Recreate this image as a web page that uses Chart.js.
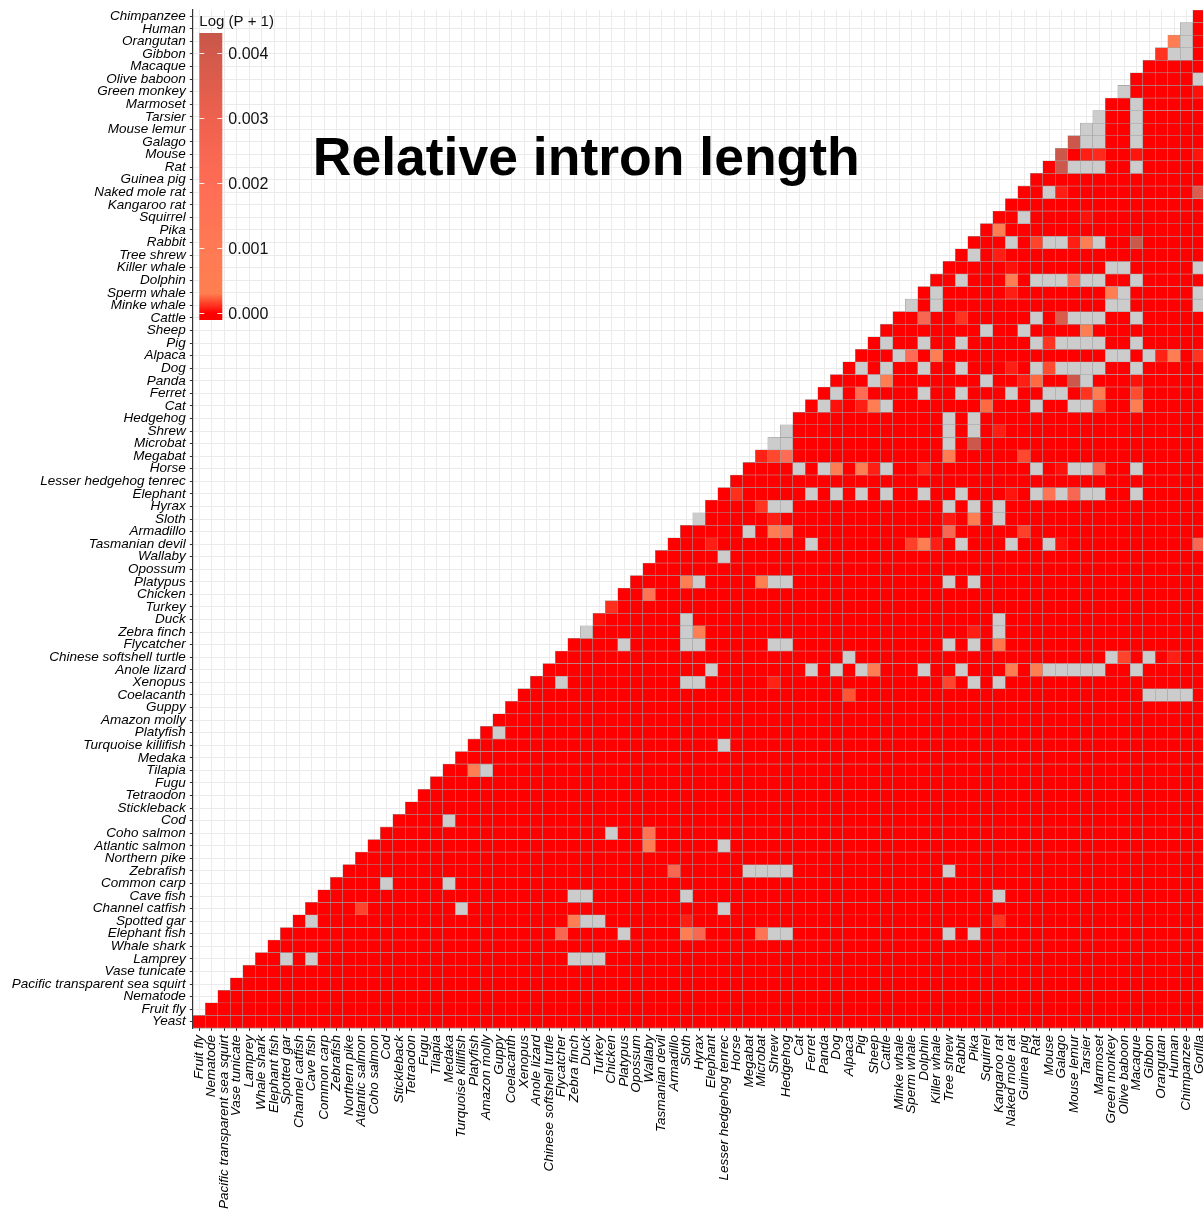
<!DOCTYPE html>
<html>
<head>
<meta charset="utf-8">
<script src="https://cdn.jsdelivr.net/npm/chart.js@4.4.1/dist/chart.umd.min.js"></script>
<style>
  html, body { margin: 0; padding: 0; background: #fff; overflow: hidden; }
  #wrap { width: 1206px; height: 1209px; position: relative; }
</style>
</head>
<body>
<div id="wrap"><canvas id="heat"></canvas></div>
<script>
// species on the y axis, top to bottom
const yLabels = ['Chimpanzee', 'Human', 'Orangutan', 'Gibbon', 'Macaque', 'Olive baboon', 'Green monkey', 'Marmoset',
    'Tarsier', 'Mouse lemur', 'Galago', 'Mouse', 'Rat', 'Guinea pig', 'Naked mole rat', 'Kangaroo rat', 'Squirrel',
    'Pika', 'Rabbit', 'Tree shrew', 'Killer whale', 'Dolphin', 'Sperm whale', 'Minke whale', 'Cattle', 'Sheep', 'Pig',
    'Alpaca', 'Dog', 'Panda', 'Ferret', 'Cat', 'Hedgehog', 'Shrew', 'Microbat', 'Megabat', 'Horse',
    'Lesser hedgehog tenrec', 'Elephant', 'Hyrax', 'Sloth', 'Armadillo', 'Tasmanian devil', 'Wallaby', 'Opossum',
    'Platypus', 'Chicken', 'Turkey', 'Duck', 'Zebra finch', 'Flycatcher', 'Chinese softshell turtle', 'Anole lizard',
    'Xenopus', 'Coelacanth', 'Guppy', 'Amazon molly', 'Platyfish', 'Turquoise killifish', 'Medaka', 'Tilapia', 'Fugu',
    'Tetraodon', 'Stickleback', 'Cod', 'Coho salmon', 'Atlantic salmon', 'Northern pike', 'Zebrafish', 'Common carp',
    'Cave fish', 'Channel catfish', 'Spotted gar', 'Elephant fish', 'Whale shark', 'Lamprey', 'Vase tunicate',
    'Pacific transparent sea squirt', 'Nematode', 'Fruit fly', 'Yeast'];

// species on the x axis, left to right
const xLabels = ['Fruit fly', 'Nematode', 'Pacific transparent sea squirt', 'Vase tunicate', 'Lamprey', 'Whale shark',
    'Elephant fish', 'Spotted gar', 'Channel catfish', 'Cave fish', 'Common carp', 'Zebrafish', 'Northern pike',
    'Atlantic salmon', 'Coho salmon', 'Cod', 'Stickleback', 'Tetraodon', 'Fugu', 'Tilapia', 'Medaka',
    'Turquoise killifish', 'Platyfish', 'Amazon molly', 'Guppy', 'Coelacanth', 'Xenopus', 'Anole lizard',
    'Chinese softshell turtle', 'Flycatcher', 'Zebra finch', 'Duck', 'Turkey', 'Chicken', 'Platypus', 'Opossum',
    'Wallaby', 'Tasmanian devil', 'Armadillo', 'Sloth', 'Hyrax', 'Elephant', 'Lesser hedgehog tenrec', 'Horse',
    'Megabat', 'Microbat', 'Shrew', 'Hedgehog', 'Cat', 'Ferret', 'Panda', 'Dog', 'Alpaca', 'Pig', 'Sheep', 'Cattle',
    'Minke whale', 'Sperm whale', 'Dolphin', 'Killer whale', 'Tree shrew', 'Rabbit', 'Pika', 'Squirrel',
    'Kangaroo rat', 'Naked mole rat', 'Guinea pig', 'Rat', 'Mouse', 'Galago', 'Mouse lemur', 'Tarsier', 'Marmoset',
    'Green monkey', 'Olive baboon', 'Macaque', 'Gibbon', 'Orangutan', 'Human', 'Chimpanzee', 'Gorilla'];

// pairs without a value (grey tiles), row species -> column species
const naCells = {
    'Human': ['Chimpanzee'],
    'Orangutan': ['Chimpanzee'],
    'Gibbon': ['Human', 'Chimpanzee'],
    'Olive baboon': ['Gorilla'],
    'Green monkey': ['Olive baboon'],
    'Marmoset': ['Macaque'],
    'Tarsier': ['Marmoset', 'Macaque'],
    'Mouse lemur': ['Tarsier', 'Marmoset', 'Macaque'],
    'Galago': ['Tarsier', 'Marmoset', 'Macaque'],
    'Rat': ['Mouse lemur', 'Tarsier', 'Marmoset', 'Macaque'],
    'Naked mole rat': ['Mouse'],
    'Squirrel': ['Guinea pig'],
    'Rabbit': ['Naked mole rat', 'Mouse', 'Galago', 'Marmoset'],
    'Tree shrew': ['Pika'],
    'Killer whale': ['Green monkey', 'Olive baboon', 'Gorilla'],
    'Dolphin': ['Rabbit', 'Rat', 'Mouse', 'Galago', 'Tarsier', 'Marmoset', 'Macaque'],
    'Sperm whale': ['Killer whale', 'Olive baboon', 'Gorilla'],
    'Minke whale': ['Sperm whale', 'Killer whale', 'Green monkey', 'Olive baboon', 'Gorilla'],
    'Cattle': ['Rat', 'Mouse lemur', 'Tarsier', 'Marmoset', 'Macaque'],
    'Sheep': ['Squirrel', 'Guinea pig'],
    'Pig': ['Cattle', 'Dolphin', 'Rabbit', 'Rat', 'Galago', 'Mouse lemur', 'Tarsier', 'Marmoset', 'Macaque'],
    'Alpaca': ['Minke whale', 'Green monkey', 'Olive baboon', 'Gibbon'],
    'Dog': ['Pig', 'Cattle', 'Dolphin', 'Rabbit', 'Rat', 'Galago', 'Mouse lemur', 'Tarsier', 'Marmoset', 'Macaque'],
    'Panda': ['Sheep', 'Squirrel', 'Tarsier'],
    'Ferret': ['Dog', 'Dolphin', 'Rabbit', 'Naked mole rat', 'Mouse', 'Galago'],
    'Cat': ['Panda', 'Cattle', 'Rat', 'Mouse lemur', 'Tarsier'],
    'Hedgehog': ['Tree shrew', 'Pika'],
    'Shrew': ['Hedgehog', 'Tree shrew', 'Pika'],
    'Microbat': ['Shrew', 'Hedgehog', 'Tree shrew'],
    'Horse': ['Cat', 'Panda', 'Cattle', 'Rat', 'Mouse lemur', 'Tarsier', 'Macaque'],
    'Elephant': ['Ferret', 'Dog', 'Pig', 'Cattle', 'Dolphin', 'Rabbit', 'Rat', 'Galago', 'Tarsier', 'Marmoset', 'Macaque'],
    'Hyrax': ['Shrew', 'Hedgehog', 'Tree shrew', 'Pika', 'Kangaroo rat'],
    'Sloth': ['Hyrax', 'Kangaroo rat'],
    'Armadillo': ['Megabat'],
    'Tasmanian devil': ['Ferret', 'Rabbit', 'Naked mole rat', 'Mouse'],
    'Wallaby': ['Lesser hedgehog tenrec'],
    'Platypus': ['Hyrax', 'Shrew', 'Hedgehog', 'Tree shrew', 'Pika'],
    'Duck': ['Sloth', 'Kangaroo rat'],
    'Zebra finch': ['Duck', 'Sloth', 'Kangaroo rat'],
    'Flycatcher': ['Platypus', 'Sloth', 'Hyrax', 'Shrew', 'Hedgehog', 'Tree shrew', 'Pika'],
    'Chinese softshell turtle': ['Alpaca', 'Green monkey', 'Gibbon'],
    'Anole lizard': ['Elephant', 'Ferret', 'Dog', 'Pig', 'Dolphin', 'Rabbit', 'Mouse', 'Galago', 'Mouse lemur',
        'Tarsier', 'Marmoset', 'Macaque'],
    'Xenopus': ['Flycatcher', 'Sloth', 'Hyrax', 'Pika', 'Kangaroo rat'],
    'Coelacanth': ['Gibbon', 'Orangutan', 'Human', 'Chimpanzee'],
    'Platyfish': ['Guppy'],
    'Turquoise killifish': ['Lesser hedgehog tenrec'],
    'Tilapia': ['Amazon molly'],
    'Cod': ['Medaka'],
    'Coho salmon': ['Chicken'],
    'Atlantic salmon': ['Lesser hedgehog tenrec'],
    'Zebrafish': ['Megabat', 'Microbat', 'Shrew', 'Hedgehog', 'Tree shrew'],
    'Common carp': ['Cod', 'Medaka'],
    'Cave fish': ['Zebra finch', 'Duck', 'Sloth', 'Kangaroo rat'],
    'Channel catfish': ['Turquoise killifish', 'Lesser hedgehog tenrec'],
    'Spotted gar': ['Cave fish', 'Duck', 'Turkey'],
    'Elephant fish': ['Platypus', 'Shrew', 'Hedgehog', 'Tree shrew', 'Pika'],
    'Lamprey': ['Spotted gar', 'Cave fish', 'Zebra finch', 'Duck', 'Turkey']
};

// Log(P + 1) values that are not ~0, row species -> column species
const pValues = {
    'Orangutan': { 'Human': 0.0006 },
    'Gibbon': { 'Orangutan': 0.00012 },
    'Green monkey': { 'Gorilla': 0.00004 },
    'Galago': { 'Mouse lemur': 0.0042 },
    'Mouse': { 'Galago': 0.0042, 'Tarsier': 0.00007, 'Marmoset': 0.0001, 'Macaque': 0.00005, 'Gorilla': 0.00005 },
    'Rat': { 'Galago': 0.0042 },
    'Naked mole rat': { 'Galago': 0.00007, 'Gorilla': 0.0037 },
    'Squirrel': { 'Tarsier': 0.00004 },
    'Pika': { 'Kangaroo rat': 0.0006 },
    'Rabbit': { 'Rat': 0.00016, 'Mouse lemur': 0.00007, 'Tarsier': 0.0006, 'Macaque': 0.0042 },
    'Tree shrew': { 'Kangaroo rat': 0.00007 },
    'Killer whale': { 'Naked mole rat': 0.00004 },
    'Dolphin': { 'Naked mole rat': 0.0006, 'Mouse lemur': 0.002 },
    'Sperm whale': { 'Naked mole rat': 0.00007, 'Green monkey': 0.0006 },
    'Cattle': { 'Dolphin': 0.0025, 'Rabbit': 0.00012, 'Galago': 0.0037 },
    'Sheep': { 'Tarsier': 0.0006 },
    'Pig': { 'Mouse': 0.00012 },
    'Alpaca': { 'Sperm whale': 0.002, 'Killer whale': 0.0006, 'Orangutan': 0.00008, 'Human': 0.0006, 'Gorilla': 0.00012 },
    'Dog': { 'Naked mole rat': 0.00007, 'Mouse': 0.00018 },
    'Panda': { 'Cattle': 0.0006, 'Guinea pig': 0.00007, 'Rat': 0.00025, 'Mouse lemur': 0.0042, 'Macaque': 0.00004 },
    'Ferret': { 'Pig': 0.002, 'Tarsier': 0.00012, 'Marmoset': 0.0006, 'Macaque': 0.00018 },
    'Cat': { 'Dog': 0.00004, 'Pig': 0.00007, 'Sheep': 0.0006, 'Squirrel': 0.00025, 'Marmoset': 0.00015, 'Macaque': 0.0006 },
    'Shrew': { 'Kangaroo rat': 0.00007 },
    'Microbat': { 'Pika': 0.0042 },
    'Megabat': { 'Microbat': 0.00008, 'Shrew': 0.00017, 'Hedgehog': 0.002, 'Tree shrew': 0.0006, 'Guinea pig': 0.00017 },
    'Horse': { 'Dog': 0.0006, 'Pig': 0.0006, 'Sheep': 0.00007, 'Dolphin': 0.00008, 'Galago': 0.00004, 'Marmoset': 0.0025 },
    'Elephant': { 'Horse': 0.00011, 'Naked mole rat': 0.00005, 'Mouse': 0.0015, 'Mouse lemur': 0.0025 },
    'Hyrax': { 'Microbat': 0.00012 },
    'Sloth': { 'Shrew': 0.00007, 'Tree shrew': 0.00006, 'Pika': 0.0006 },
    'Armadillo': { 'Shrew': 0.0006, 'Hedgehog': 0.0015, 'Tree shrew': 0.0025, 'Guinea pig': 0.00015 },
    'Tasmanian devil': { 'Elephant': 0.00007, 'Sperm whale': 0.00015, 'Dolphin': 0.0006, 'Killer whale': 0.00007,
        'Galago': 0.00004, 'Gorilla': 0.0025 },
    'Platypus': { 'Sloth': 0.0006, 'Microbat': 0.0003 },
    'Chicken': { 'Wallaby': 0.0015 },
    'Turkey': { 'Chicken': 0.00011 },
    'Duck': { 'Turkey': 0.00004 },
    'Zebra finch': { 'Hyrax': 0.0006, 'Pika': 0.00007 },
    'Flycatcher': { 'Kangaroo rat': 0.00028 },
    'Chinese softshell turtle': { 'Olive baboon': 0.00016, 'Human': 0.00007 },
    'Anole lizard': { 'Sheep': 0.0006, 'Naked mole rat': 0.0006, 'Rat': 0.0006 },
    'Xenopus': { 'Shrew': 0.00008, 'Tree shrew': 0.00016 },
    'Coelacanth': { 'Alpaca': 0.0002 },
    'Tilapia': { 'Platyfish': 0.0006 },
    'Coho salmon': { 'Wallaby': 0.0015 },
    'Atlantic salmon': { 'Wallaby': 0.0006 },
    'Zebrafish': { 'Armadillo': 0.0025 },
    'Channel catfish': { 'Atlantic salmon': 0.00016 },
    'Spotted gar': { 'Zebra finch': 0.0006, 'Sloth': 0.00007, 'Kangaroo rat': 0.00012 },
    'Elephant fish': { 'Flycatcher': 0.0025, 'Sloth': 0.0006, 'Hyrax': 0.0025, 'Microbat': 0.0015 },
    'Lamprey': { 'Kangaroo rat': 0.00004 }
};

// colour bar ticks
const legendTicks = [0, 0.001, 0.002, 0.003, 0.004];
const legendTitle = 'Log (P + 1)';
const chartTitle = 'Relative intron length';

// fill scale: value -> rgb
const scaleStops = [
    [0, [255, 0, 0]],
    [0.0003, [255, 127, 80]],
    [0.001, [255, 122, 84]],
    [0.002, [255, 108, 85]],
    [0.003, [238, 97, 78]],
    [0.0043, [200, 87, 74]]
];
const NA_COLOR = '#cccccc';

function fillColor(v) {
    if (v <= scaleStops[0][0]) return 'rgb(255,0,0)';
    for (let k = 1; k < scaleStops.length; k++) {
        const [v1, c1] = scaleStops[k];
        const [v0, c0] = scaleStops[k - 1];
        if (v <= v1) {
            const t = (v - v0) / (v1 - v0);
            const c = c0.map((a, n) => Math.round(a + (c1[n] - a) * t));
            return 'rgb(' + c.join(',') + ')';
        }
    }
    const last = scaleStops[scaleStops.length - 1][1];
    return 'rgb(' + last.join(',') + ')';
}

const nRows = yLabels.length;

// one floating-bar dataset per row species
const datasets = yLabels.map((rowName, r) => {
    const lo = nRows - 1 - r;      // row position counted from the bottom
    const na = naCells[rowName] || [];
    const vals = pValues[rowName] || {};
    const data = [], colors = [];
    xLabels.forEach((colName, j) => {
        if (j >= lo) {
            data.push([lo, lo + 1]);
            if (na.includes(colName)) colors.push(NA_COLOR);
            else colors.push(fillColor(vals[colName] || 0));
        } else {
            data.push(null);
            colors.push('rgba(0,0,0,0)');
        }
    });
    return {
        label: rowName, data: data, backgroundColor: colors,
        borderColor: '#9e9e9e', borderWidth: 0.55, borderSkipped: false,
        grouped: false, barPercentage: 1, categoryPercentage: 1
    };
});

const labelFont = { family: '"Liberation Sans", Arial, sans-serif', style: 'italic', size: 13.5 };

const decorPlugin = {
    id: 'decor',
    afterDraw(chart) {
        const ctx = chart.ctx;
        const area = chart.chartArea;
        ctx.save();

        // title inside the panel
        ctx.fillStyle = '#000';
        ctx.font = 'bold 53.5px "Liberation Sans", Arial, sans-serif';
        ctx.textAlign = 'left';
        ctx.textBaseline = 'alphabetic';
        ctx.fillText(chartTitle, area.left + 120, 175);

        // colour bar legend
        const bx = area.left + 6.5, bw = 23;
        const yZero = 313, pxPerUnit = 65000;
        const top = 33, bottom = 320;
        for (let y = top; y < bottom; y++) {
            const v = (yZero - (y + 0.5)) / pxPerUnit;
            ctx.fillStyle = fillColor(v);
            ctx.fillRect(bx, y, bw, 1);
        }
        ctx.strokeStyle = 'rgba(255,255,255,0.9)';
        ctx.lineWidth = 1;
        ctx.font = '16px "Liberation Sans", Arial, sans-serif';
        ctx.textBaseline = 'middle';
        legendTicks.forEach(t => {
            const y = Math.round(yZero - t * pxPerUnit) + 0.5;
            ctx.beginPath();
            ctx.moveTo(bx, y); ctx.lineTo(bx + 5, y);
            ctx.moveTo(bx + bw - 5, y); ctx.lineTo(bx + bw, y);
            ctx.stroke();
            ctx.fillStyle = '#111';
            ctx.fillText(t.toFixed(3), bx + bw + 6, y + 1);
        });
        ctx.fillStyle = '#111';
        ctx.font = '15px "Liberation Sans", Arial, sans-serif';
        ctx.fillText(legendTitle, bx, 22);
        ctx.restore();
    }
};

new Chart(document.getElementById('heat'), {
    type: 'bar',
    data: { labels: xLabels, datasets: datasets },
    plugins: [decorPlugin],
    options: {
        responsive: true, maintainAspectRatio: false, animation: false,
        layout: { padding: { top: 10, right: 0.7, left: 0, bottom: 0 } },
        plugins: { legend: { display: false }, tooltip: { enabled: false }, title: { display: false } },
        scales: {
            x: {
                type: 'category', offset: true,
                grid: { offset: false, color: '#ebebeb', lineWidth: 1, tickColor: '#333', tickLength: 3, drawTicks: true },
                border: { display: true, color: '#333', width: 1.2 },
                ticks: { autoSkip: false, minRotation: 90, maxRotation: 90, padding: 4, color: '#000', font: labelFont },
                afterFit: s => { s.height = 181; s.paddingLeft = 0; s.paddingRight = 0; }
            },
            y: {
                type: 'linear', min: 0, max: nRows,
                afterBuildTicks: s => { s.ticks = yLabels.map((name, r) => ({ value: nRows - r - 0.5 })); },
                grid: { color: '#ebebeb', lineWidth: 1, tickColor: '#333', tickLength: 3, drawTicks: true },
                border: { display: true, color: '#333', width: 1.2 },
                ticks: {
                    autoSkip: false, padding: 4, color: '#000', font: labelFont,
                    callback: v => yLabels[Math.round(nRows - 0.5 - v)]
                },
                afterFit: s => { s.width = 192.8; s.paddingTop = 0; s.paddingBottom = 0; }
            }
        }
    }
});
</script>
</body>
</html>
